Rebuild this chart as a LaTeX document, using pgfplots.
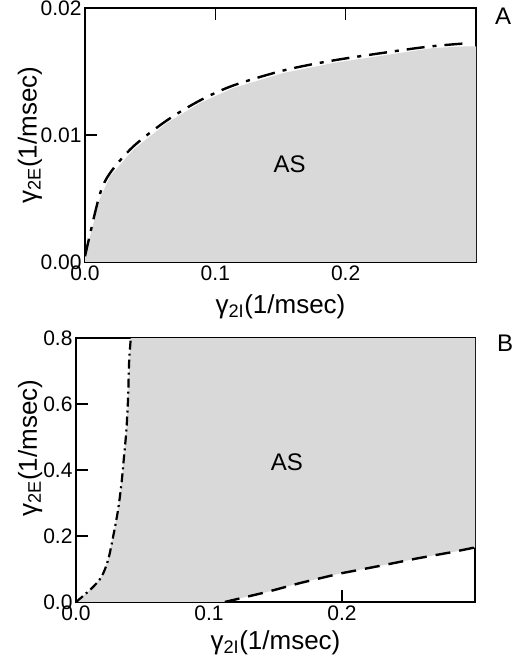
\documentclass[border=0pt]{standalone}
\usepackage{fontspec}
\setmainfont{Liberation Sans}
\usepackage{pgfplots}
\pgfplotsset{compat=1.18}
\begin{document}
\begin{tikzpicture}
\useasboundingbox (0pt,0pt) rectangle (513pt,669pt);
\pgfplotsset{
  every axis/.append style={
    scale only axis,
    axis line style={line width=1.6pt},
    tick style={line width=1.4pt, black},
    major tick length=12pt,
    tick align=inside,
    xmin=0, xmax=0.3,
    xtick={0,0.1,0.2},
    ticklabel style={font=\fontsize{21}{25}\selectfont},
    label style={font=\fontsize{26}{30}\selectfont},
    /pgf/number format/assume math mode=true,
    xticklabel style={/pgf/number format/.cd, fixed, fixed zerofill, precision=1},
    clip=true,
  }
}
% panel A
\begin{axis}[
  at={(85pt,407pt)}, anchor=south west,
  width=391pt, height=254pt,
  ymin=0, ymax=0.02,
  ytick={0,0.01,0.02},
  yticklabel style={/pgf/number format/.cd, fixed, fixed zerofill, precision=2},
  scaled y ticks=false,
  xlabel={γ\textsubscript{2I}(1/msec)},
  ylabel={γ\textsubscript{2E}(1/msec)},
  xlabel style={at={(axis description cs:0.5,-0.177)}, anchor=center},
  ylabel style={at={(axis description cs:-0.141,0.5)}, anchor=center},
]
\addplot[fill=gray!30, draw=none] coordinates {
  (0,0) (0,0.00045) (0.011,0.0049) (0.0192,0.00675) (0.0371,0.00885)
  (0.0627,0.01094) (0.0882,0.01252) (0.1138,0.0137) (0.1522,0.01488)
  (0.1905,0.01567) (0.2417,0.01646) (0.2673,0.01685) (0.2903,0.01697)
  (0.3,0.01698) (0.3,0)
};
\addplot[black, line width=2.4pt, smooth, dash pattern=on 18pt off 8pt on 4pt off 8pt] coordinates {
  (0,0.00045) (0.011,0.0052) (0.0192,0.0070) (0.0371,0.0091)
  (0.0627,0.01114) (0.0882,0.01272) (0.1138,0.0139) (0.1522,0.01508)
  (0.1905,0.01587) (0.2417,0.01666) (0.2673,0.01700) (0.2903,0.01720)
};
\node[font=\fontsize{24}{28}\selectfont] at (axis cs:0.157,0.00766) {AS};
\end{axis}
% panel B
\begin{axis}[
  at={(76pt,67pt)}, anchor=south west,
  width=399pt, height=264pt,
  ymin=0, ymax=0.8,
  ytick={0,0.2,0.4,0.6,0.8},
  yticklabel style={/pgf/number format/.cd, fixed, fixed zerofill, precision=1},
  xlabel={γ\textsubscript{2I}(1/msec)},
  ylabel={γ\textsubscript{2E}(1/msec)},
  xlabel style={at={(axis description cs:0.5,-0.155)}, anchor=center},
  ylabel style={at={(axis description cs:-0.115,0.583)}, anchor=center},
]
\addplot[fill=gray!30, draw=none] coordinates {
  (0,0) (0.0116,0.0407) (0.0191,0.076) (0.0241,0.1267) (0.0279,0.1975)
  (0.0316,0.2786) (0.0342,0.3597) (0.0361,0.4406) (0.0379,0.5217)
  (0.0392,0.6229) (0.0399,0.7243) (0.0412,0.8)
  (0.3,0.8) (0.3,0.1653) (0.2838,0.1519) (0.2562,0.1319) (0.2311,0.1115)
  (0.1985,0.0863) (0.1687,0.0577) (0.1436,0.0304) (0.1119,0)
};
\addplot[black, line width=2.2pt, smooth, dash pattern=on 9pt off 4pt on 2pt off 4pt] coordinates {
  (0,0) (0.0116,0.0407) (0.0191,0.076) (0.0241,0.1267) (0.0279,0.1975)
  (0.0316,0.2786) (0.0342,0.3597) (0.0361,0.4406) (0.0379,0.5217)
  (0.0392,0.6229) (0.0399,0.7243) (0.0412,0.8)
};
\addplot[black, line width=2.4pt, dash pattern=on 15pt off 9pt] coordinates {
  (0.1119,0) (0.1436,0.0304) (0.1687,0.0577) (0.1985,0.0863)
  (0.2311,0.1115) (0.2562,0.1319) (0.2838,0.1519) (0.3,0.1653)
};
\node[font=\fontsize{24}{28}\selectfont] at (axis cs:0.1586,0.425) {AS};
\end{axis}
\node[font=\fontsize{24}{28}\selectfont] at (503pt,653pt) {A};
\node[font=\fontsize{24}{28}\selectfont] at (505pt,326pt) {B};
\end{tikzpicture}
\end{document}
